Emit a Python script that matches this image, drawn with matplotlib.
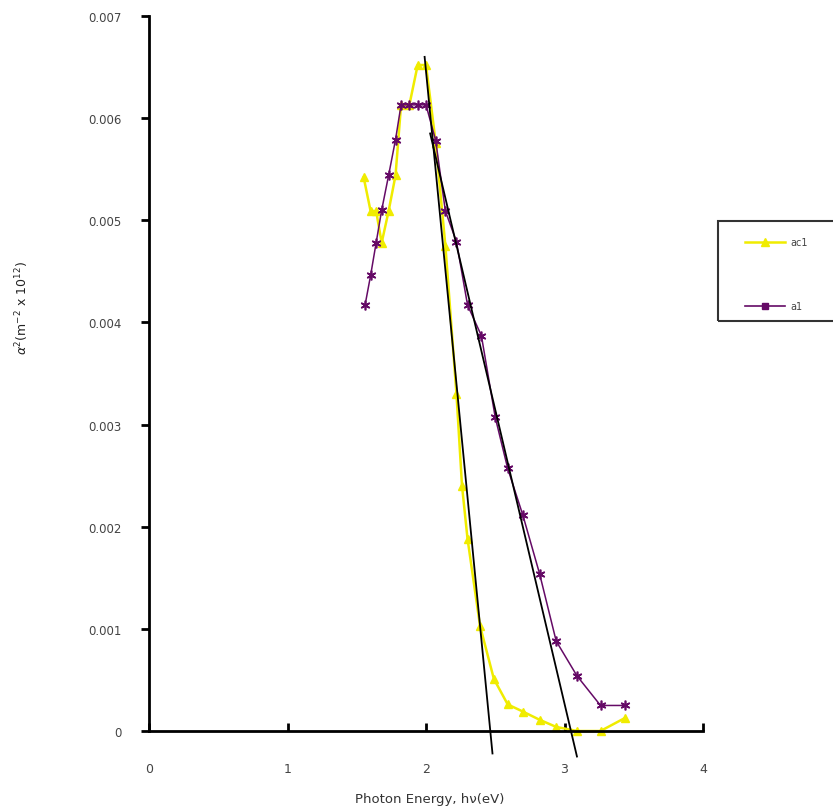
import numpy as np
import matplotlib
matplotlib.use("Agg")
import matplotlib.pyplot as plt
from matplotlib.lines import Line2D
from matplotlib.patches import Rectangle

# photon energy (eV) and alpha^2 (x 1e-3)
energy_ac1 = [1.55, 1.60, 1.64, 1.68, 1.73, 1.78, 1.82, 1.88, 1.94, 2.00, 2.07, 2.14,
              2.22, 2.26, 2.30, 2.39, 2.49, 2.59, 2.70, 2.82, 2.94, 3.09, 3.26, 3.44]
alpha2_ac1 = [5.42, 5.09, 5.09, 4.78, 5.09, 5.44, 6.13, 6.13, 6.52, 6.52, 5.76, 4.75,
              3.30, 2.40, 1.88, 1.03, 0.51, 0.26, 0.19, 0.11, 0.04, 0.0, 0.0, 0.13]

energy_a1 = [1.56, 1.60, 1.64, 1.68, 1.73, 1.78, 1.82, 1.88, 1.94, 2.00, 2.07, 2.14,
             2.22, 2.30, 2.40, 2.50, 2.59, 2.70, 2.82, 2.94, 3.09, 3.26, 3.44]
alpha2_a1 = [4.17, 4.46, 4.78, 5.10, 5.44, 5.79, 6.13, 6.13, 6.13, 6.13, 5.78, 5.09,
             4.79, 4.17, 3.87, 3.07, 2.57, 2.11, 1.54, 0.88, 0.54, 0.25, 0.25]

# straight-line extrapolations to the energy axis
fit_ac1_x = [1.99, 2.48]
fit_ac1_y = [6.60, -0.22]
fit_a1_x = [2.03, 3.09]
fit_a1_y = [5.85, -0.25]

yticks = [0, 0.001, 0.002, 0.003, 0.004, 0.005, 0.006, 0.007]
ytick_labels = ["0", "0.001", "0.002", "0.003", "0.004", "0.005", "0.006", "0.007"]
xticks = [0, 1, 2, 3, 4]

yellow = "#f0ec00"
purple = "#650a66"
W, H = 833, 812

fig = plt.figure(figsize=(W/100, H/100), dpi=100)
ax = fig.add_axes([149/W, 1-732/H, 554/W, 715/H])

ax.plot(energy_ac1, np.array(alpha2_ac1)*1e-3, color=yellow, lw=1.8,
        marker="^", ms=6, mec=yellow, mfc=yellow, clip_on=False, zorder=2)
ax.plot(energy_a1, np.array(alpha2_a1)*1e-3, color=purple, lw=1.1,
        marker=(6, 2, 0), ms=7, mec=purple, mew=1.2, clip_on=False, zorder=3)
ax.plot(fit_ac1_x, np.array(fit_ac1_y)*1e-3, color="k", lw=1.3, clip_on=False, zorder=4)
ax.plot(fit_a1_x, np.array(fit_a1_y)*1e-3, color="k", lw=1.3, clip_on=False, zorder=4)

ax.set_xlim(0, 4)
ax.set_ylim(0, 0.007)
ax.spines["top"].set_visible(False)
ax.spines["right"].set_visible(False)
for s in ["left", "bottom"]:
    ax.spines[s].set_linewidth(2)
ax.set_yticks(yticks)
ax.set_yticklabels(ytick_labels)
ax.set_xticks(xticks)
ax.tick_params(axis="y", direction="out", length=6, width=2, pad=14,
               labelsize=8.5, labelcolor="#444444")
ax.tick_params(axis="x", direction="in", length=6, width=2, pad=22,
               labelsize=9, labelcolor="#444444")

fig.text(430/W, 1-800/H, "Photon Energy, h\u03bd(eV)", ha="center", va="center",
         fontsize=9.5, color="#333333")
fig.text(22/W, 1-308/H, r"$\alpha^2$(m$^{-2}$ x 10$^{12}$)", ha="center", va="center",
         rotation=90, fontsize=9, color="#222222")

# legend box, running off the right edge
fig.add_artist(Rectangle((718/W, 1-322/H), 140/W, 100/H, transform=fig.transFigure,
                         fill=False, ec="#333333", lw=1.5))
fig.add_artist(Line2D([745/W, 785/W], [1-243/H]*2, transform=fig.transFigure,
                      color=yellow, lw=1.8))
fig.add_artist(Line2D([765/W], [1-243/H], transform=fig.transFigure,
                      color=yellow, marker="^", ms=6, mec=yellow, mfc=yellow))
fig.add_artist(Line2D([745/W, 785/W], [1-307/H]*2, transform=fig.transFigure,
                      color=purple, lw=1.2))
fig.add_artist(Line2D([765/W], [1-307/H], transform=fig.transFigure,
                      color=purple, marker="s", ms=5, mec=purple, mfc=purple))
fig.text(790/W, 1-243/H, "ac1", va="center", fontsize=7, color="#444444")
fig.text(790/W, 1-307/H, "a1", va="center", fontsize=7, color="#444444")

fig.savefig("out.png", dpi=100)
